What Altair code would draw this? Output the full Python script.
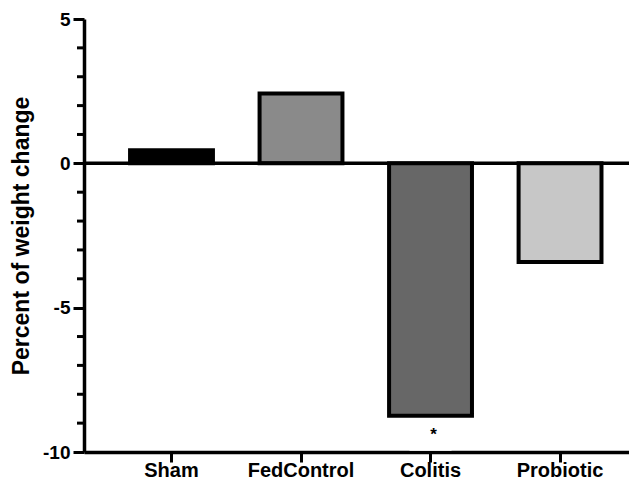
import altair as alt
import pandas as pd

# ---- data ----
groups = ["Sham", "FedControl", "Colitis", "Probiotic"]
means = [0.45, 2.42, -8.74, -3.42]
fills = ["#000000", "#8a8a8a", "#676767", "#c7c7c7"]

y_major = [5, 0, -5, -10]
y_minor = [4, 3, 2, 1, -1, -2, -3, -4, -6, -7, -8, -9]

sig_group = ["Colitis"]
sig_label = ["*"]
sig_err_low = [-10.0]

y_title = "Percent of weight change"

# ---- tables ----
df = pd.DataFrame({"group": groups, "mean": means, "fill": fills})
sig = pd.DataFrame({"group": sig_group, "label": sig_label, "low": sig_err_low})
zero_df = pd.DataFrame({"zero": [0]})
minor_df = pd.DataFrame({"minor": y_minor})

FONT = "Liberation Sans"

x_enc = alt.X(
    "group:N",
    sort=groups,
    title=None,
    scale=alt.Scale(paddingInner=0.36, paddingOuter=0.284, align=0.626),
    axis=alt.Axis(
        labelAngle=0,
        labelFont=FONT,
        labelFontSize=20,
        labelFontWeight="bold",
        labelColor="black",
        labelPadding=-2,
        tickSize=10,
        tickWidth=3,
        tickColor="black",
        domainColor="black",
        domainWidth=3.5,
        grid=False,
    ),
)

y_scale = alt.Scale(domain=[-10, 5], nice=False)
y_axis = alt.Axis(
    orient="left",
    values=y_major,
    labelExpr="toString(datum.value)",
    labelOverlap=False,
    labelFont=FONT,
    labelFontSize=19,
    labelFontWeight="bold",
    labelColor="black",
    labelPadding=3,
    tickSize=11,
    tickWidth=3,
    tickColor="black",
    domainColor="black",
    domainWidth=3.5,
    grid=False,
    title=y_title,
    titleFont=FONT,
    titleFontSize=23,
    titleFontWeight="bold",
    titleColor="black",
    titleX=-51,
    titleBaseline="bottom",
    titleAngle=270,
)

bars = alt.Chart(df).mark_bar(stroke="black", strokeWidth=4).encode(
    x=x_enc,
    y=alt.Y("mean:Q", scale=y_scale, axis=y_axis),
    y2=alt.datum(0),
    color=alt.Color("fill:N", scale=None),
)

minor_points = alt.Chart(minor_df).mark_point(
    shape="stroke", size=49, strokeWidth=3, color="black", opacity=1, clip=False
).encode(
    y=alt.Y("minor:Q", scale=y_scale, axis=None),
    x=alt.value(-3.5),
)

zero_line = alt.Chart(zero_df).mark_rule(color="black", strokeWidth=3.5).encode(
    y=alt.Y("zero:Q", scale=y_scale, axis=None)
)

cap = alt.Chart(sig).mark_tick(color="white", thickness=2, size=42, yOffset=-2).encode(
    x=x_enc,
    y=alt.Y("low:Q", scale=y_scale, axis=None),
)

star = alt.Chart(sig).mark_text(
    font=FONT, fontSize=17, fontWeight="bold", color="black",
    baseline="alphabetic", dy=-12, dx=3,
).encode(
    x=x_enc,
    y=alt.Y("low:Q", scale=y_scale, axis=None),
    text="label:N",
)

chart = (
    alt.layer(bars, minor_points, zero_line, cap, star)
    .resolve_axis(y="independent")
    .properties(
        width=545,
        height=433,
        autosize=alt.AutoSizeParams(type="none"),
        padding={"left": 76, "top": 11, "right": 0, "bottom": 36},
        background="white",
    )
    .configure_view(stroke=None)
)

chart.save("out.html", embed_options={"renderer": "svg", "actions": False})
